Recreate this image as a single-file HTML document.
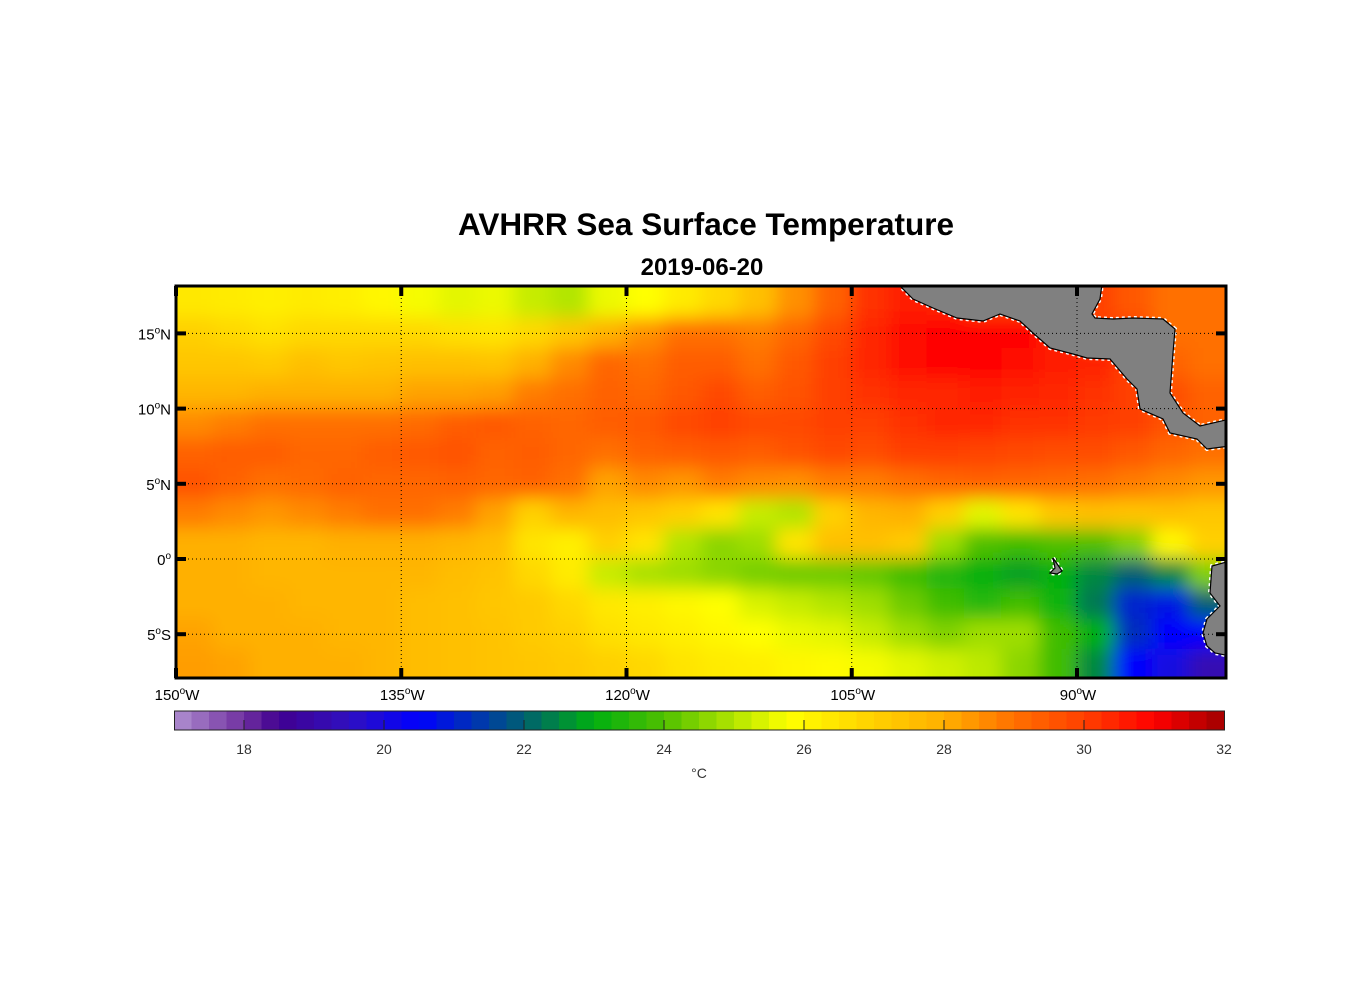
<!DOCTYPE html>
<html><head><meta charset="utf-8"><style>
html,body{margin:0;padding:0;background:#fff;}
svg{display:block;font-family:"Liberation Sans",Arial,sans-serif;}
</style></head><body>
<svg id="chart" width="1356" height="1000" viewBox="0 0 1356 1000">
<defs>
<filter id="blur" filterUnits="userSpaceOnUse" x="80" y="180" width="1250" height="600"><feGaussianBlur stdDeviation="9"/></filter>
<clipPath id="mapclip"><rect x="176" y="286" width="1050" height="392"/></clipPath>
</defs>
<text x="706" y="235" text-anchor="middle" font-size="31.5" font-weight="bold">AVHRR Sea Surface Temperature</text>
<text x="702" y="275" text-anchor="middle" font-size="24" font-weight="bold">2019-06-20</text>
<g clip-path="url(#mapclip)"><g id="cells" filter="url(#blur)"></g>
<g id="land"></g></g>
<g id="grid"></g>
<rect x="176" y="286" width="1050" height="392" fill="none" stroke="#000" stroke-width="3"/>
<g id="axes"></g>
<g id="cbar"></g>
<text x="699" y="778" text-anchor="middle" font-size="14" fill="#333">°C</text>
</svg>
<script>
const lonStarts=[150,147.5,145,142.5,140,137.5,135,132.5,130,127.5,125,122.5,120,117.5,115,112.5,110,107.5,105,102.5,100,97.5,95,92.5,90,87.5,85,82.5];
const latTops=[18,16,14,12,10,8,6,4,2,0,-2,-4,-6];
const sst=[
[26.4,26.3,26.2,26.3,26.2,26.0,25.7,25.5,25.6,25.2,25.0,25.6,25.8,26.3,26.8,27.5,28.5,29.3,30.2,30.6,30.5,30,30,30,30,29.5,29,29],
[27,26.8,26.6,26.8,26.8,26.8,26.8,26.6,26.5,26.8,27.3,28,28.5,29,29,28.8,29.2,29.8,30.4,30.8,31,31,31,30.5,30,30,29,29],
[27.3,27.3,27.2,27.5,27.3,27.4,27.5,27.5,27.4,28,28.6,29.2,29,29.4,29.4,29,29.5,30,30.4,30.8,30.9,30.9,30.8,30.6,30.5,30,29.3,29],
[27.8,27.8,28,28,28,28,28.2,28.2,28.3,28.8,29,29.3,29.2,29.5,29.8,29.4,29.6,30,30.2,30.4,30.4,30.6,30.5,30.4,30.2,30,29.7,29.3],
[28.6,28.8,29,29,29,29,29.1,29.4,29.5,29.3,29.2,29.4,29.5,29.8,30,29.8,29.8,30,30,30.2,30.4,30.4,30.2,30.2,30.1,30,29.6,29.3],
[29.3,29.4,29.4,29.2,29.2,29.4,29.5,29.6,29.3,29.4,29.2,29,29.3,29.4,29.5,29.4,29.6,29.8,29.7,30,30,29.9,29.8,29.7,29.7,29.5,29.2,29],
[29.6,29.3,29,29.1,29.3,29.2,29.2,29.3,29.2,29.3,29,28.2,28.6,28.4,28.8,28.6,28.5,28.8,28.8,29,29.2,29.3,29.2,29.1,29,28.8,28.6,28.4],
[28.8,28.6,28.4,28.6,28.8,29,29,28.8,28.2,27,27.8,27.6,27.3,27,26.5,25.2,25,27,27.8,28,27,25.5,26.5,27.3,27.5,27.4,27.5,27.3],
[28,28,27.8,27.8,28,28,28,27.8,27.6,26.5,26.2,27,26.5,25,24.6,24.8,26.5,27.5,27.5,27.2,24.8,24,23.8,24.0,24.0,24.5,26,27],
[28,28,27.8,27.8,27.8,27.8,27.8,27.6,27.4,26.8,26.3,25.2,24.9,24.8,24.6,24.4,24.3,24.3,24.2,23.8,23.4,23.0,22.8,23.0,22.5,22,22.5,24.5],
[28,28,28,27.8,27.8,27.8,27.6,27.5,27.3,27.2,26.8,26.4,26.2,26,25.8,25.4,25.2,25,24.8,24.3,23.8,23.5,23.8,23.2,22.3,21,20.8,22],
[28.2,28,28,28,27.8,27.8,27.6,27.5,27.4,27.2,27,26.6,26.4,26.2,26,25.8,25.6,25.5,25.2,24.8,24.5,24.8,24.8,23.8,23,21.2,20.5,20.5],
[28.3,28.2,28,28,28,27.8,27.6,27.5,27.4,27.3,27.2,27,26.8,26.5,26.3,26.2,26,25.9,25.7,25.5,25.3,25.1,24.6,23.8,22.5,20.5,20,19.2]];
const lonTicks=[150,135,120,105,90];
const latTicks=[15,10,5,0,-5];
const cbTicks=[18,20,22,24,26,28,30,32];

const NS="http://www.w3.org/2000/svg";
const X=lon=>176+(150-lon)*(901/60);
const Y=lat=>559-lat*(75.2/5);
const CB=v=>174+(v-17)*70;
const stops=[[17,[176,144,208]],[18,[112,48,160]],[18.5,[64,0,144]],[19.5,[48,16,192]],[20.5,[0,0,255]],[22,[0,96,112]],[23,[0,176,16]],[24,[80,192,0]],[25.3,[208,240,0]],[25.8,[255,255,0]],[27,[255,208,0]],[28,[255,176,0]],[29,[255,112,0]],[30,[255,64,0]],[31,[255,0,0]],[32,[160,0,0]]];
function color(v){
  if(v<=stops[0][0])return `rgb(${stops[0][1]})`;
  for(let i=1;i<stops.length;i++){if(v<=stops[i][0]){const a=stops[i-1],b=stops[i],t=(v-a[0])/(b[0]-a[0]);
    return `rgb(${a[1].map((c,k)=>Math.round(c+(b[1][k]-c)*t)).join(',')})`;}}
  return `rgb(${stops[stops.length-1][1]})`;
}
function mk(tag,attrs,parent){const e=document.createElementNS(NS,tag);for(const k in attrs)e.setAttribute(k,attrs[k]);parent.appendChild(e);return e;}

const cells=document.getElementById('cells');
const PAD=60, nR=sst.length, nC=lonStarts.length;
sst.forEach((row,r)=>row.forEach((v,c)=>{
  let x0=X(lonStarts[c]),x1=X(lonStarts[c]-2.5),y0=Y(latTops[r]),y1=Y(latTops[r]-2);
  if(c===0)x0-=PAD; if(c===nC-1)x1+=PAD; if(r===0)y0-=PAD; if(r===nR-1)y1+=PAD;
  const e=mk('rect',{x:x0-0.5,y:y0-0.5,width:x1-x0+1,height:y1-y0+1,fill:color(v)},cells);
  
  
}));

const land=document.getElementById('land');
const polys=[
 ["central-america","898,284 913,299 933,308 957,318 983,321 1000,314 1020,321 1033,333 1050,348 1073,354 1087,358 1110,359 1127,379 1137,389 1140,409 1163,419 1170,433 1197,439 1207,449 1230,446 1230,419 1200,426 1183,413 1170,393 1173,353 1175,329 1163,319 1133,318 1113,319 1095,318 1092,314 1100,299 1102,284"],
 ["south-america","1230,561 1212,566 1210,593 1220,606 1207,619 1203,633 1207,646 1215,653 1230,656"],
 ["galapagos","1053,558 1062,571 1057,574 1050,573 1055,568"]];
polys.forEach(p=>{
  mk('polygon',{points:p[1],fill:"none",stroke:"#fff",'stroke-width':4,'stroke-dasharray':'3 3'},land);
  const e=mk('polygon',{points:p[1],fill:"#808080",stroke:"#000",'stroke-width':1.2},land);
  
  
});

const grid=document.getElementById('grid'),axes=document.getElementById('axes');
lonTicks.forEach(l=>{
  const x=X(l);
  if(l!==150)mk('line',{x1:x,y1:286,x2:x,y2:678,stroke:"#000",'stroke-width':1,'stroke-dasharray':'1 3'},grid);
  mk('line',{x1:x,y1:286,x2:x,y2:296,stroke:"#000",'stroke-width':4},axes);
  mk('line',{x1:x,y1:668,x2:x,y2:678,stroke:"#000",'stroke-width':4},axes);
  const t=mk('text',{x:x+1,y:700,'text-anchor':'middle','font-size':15},axes);
  t.innerHTML=`${l}<tspan dy="-6" font-size="10">o</tspan><tspan dy="6">W</tspan>`;
  
  
});
latTicks.forEach(l=>{
  const y=Y(l);
  mk('line',{x1:176,y1:y,x2:1226,y2:y,stroke:"#000",'stroke-width':1,'stroke-dasharray':'1 3'},grid);
  mk('line',{x1:176,y1:y,x2:186,y2:y,stroke:"#000",'stroke-width':4},axes);
  mk('line',{x1:1216,y1:y,x2:1226,y2:y,stroke:"#000",'stroke-width':4},axes);
  const suf=l>0?'N':(l<0?'S':'');
  const t=mk('text',{x:171,y:y+6,'text-anchor':'end','font-size':15},axes);
  t.innerHTML=`${Math.abs(l)}<tspan dy="-6" font-size="10">o</tspan><tspan dy="6">${suf}</tspan>`;
  
  
});

const cb=document.getElementById('cbar');
for(let v=17;v<32;v+=0.25){
  mk('rect',{x:CB(v),y:711,width:17.8,height:19,fill:color(v+0.125)},cb);
}
mk('rect',{x:174.5,y:711,width:1050,height:19,fill:"none",stroke:"#222",'stroke-width':1},cb);
cbTicks.forEach(v=>{
  const x=CB(v);
  if(v<32)mk('line',{x1:x,y1:720,x2:x,y2:730,stroke:"#222",'stroke-width':1},cb);
  const t=mk('text',{x:x,y:754,'text-anchor':'middle','font-size':14,fill:"#333"},cb);
  t.textContent=v;
  
  
});
</script>
</body></html>
